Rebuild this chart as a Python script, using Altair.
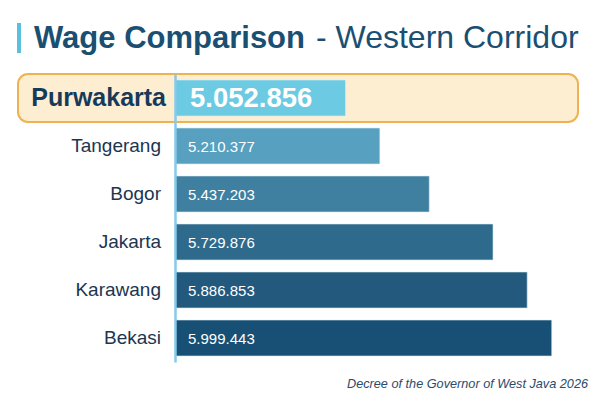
import altair as alt
import pandas as pd

cities = ["Purwakarta", "Tangerang", "Bogor", "Jakarta", "Karawang", "Bekasi"]
wages = [5052856, 5210377, 5437203, 5729876, 5886853, 5999443]
bar_colors = ["#6ccbe2", "#57a0bf", "#3f7f9f", "#2e6a8c", "#22597d", "#174f75"]
highlight = "Purwakarta"

df = pd.DataFrame({
    "city": cities,
    "wage": wages,
    "label": [f"{w:,}".replace(",", ".") for w in wages],
})

y = alt.Y("city:N", sort=cities, title=None,
          scale=alt.Scale(paddingInner=0, paddingOuter=0),
          axis=alt.Axis(labels=False, ticks=False, domainColor="#86c9ea", domainWidth=2.5))
x = alt.X("wage:Q", axis=None,
          scale=alt.Scale(domain=[4270000, 6120000], zero=False, nice=False, clamp=True))

base = alt.Chart(df)
is_hl = alt.datum.city == highlight

box = base.mark_rect(cornerRadius=10, fill="#fdeed2", stroke="#f0b24f", strokeWidth=2).encode(
    y=y, x=alt.value(-157), x2=alt.value(403)
).transform_filter(is_hl)

bars = base.mark_bar(height={"band": 0.75}, stroke="#d8ecf4", strokeWidth=1, strokeOpacity=0.6).encode(
    y=y, x=x,
    color=alt.Color("city:N", scale=alt.Scale(domain=cities, range=bar_colors), legend=None),
)

names = base.mark_text(align="right", baseline="middle", fontSize=19, color="#1c3550").encode(
    y=y, x=alt.value(-14), text="city:N"
).transform_filter(~is_hl)

name_hl = base.mark_text(align="right", baseline="middle", fontSize=25, fontWeight="bold",
                         color="#17395a").encode(
    y=y, x=alt.value(-9), text="city:N"
).transform_filter(is_hl)

values = base.mark_text(align="left", baseline="middle", fontSize=15, color="white", dy=1).encode(
    y=y, x=alt.value(13), text="label:N"
).transform_filter(~is_hl)

value_hl = base.mark_text(align="left", baseline="middle", fontSize=27.5, fontWeight="bold",
                          color="white", dy=1).encode(
    y=y, x=alt.value(15), text="label:N"
).transform_filter(is_hl)

one = alt.Chart(pd.DataFrame({"k": [0]}))
accent = one.mark_rect(color="#5bc0de").encode(
    x=alt.value(-158), x2=alt.value(-154), y=alt.value(-51), y2=alt.value(-21)
)
title_a = one.mark_text(align="left", baseline="alphabetic", fontSize=31, fontWeight="bold",
                        color="#1b4f72").encode(
    x=alt.value(-141), y=alt.value(-26), text=alt.value("Wage Comparison")
)
title_b = one.mark_text(align="left", baseline="alphabetic", fontSize=32,
                        color="#1b4f72").encode(
    x=alt.value(141), y=alt.value(-26), text=alt.value("- Western Corridor")
)
footer = one.mark_text(align="right", baseline="alphabetic", fontSize=12.7, fontStyle="italic",
                       color="#2c4a6b").encode(
    x=alt.value(413), y=alt.value(314), text=alt.value("Decree of the Governor of West Java 2026")
)

chart = alt.layer(
    box, bars, names, name_hl, values, value_hl, accent, title_a, title_b, footer
).properties(
    width=403, height=288,
    autosize=alt.AutoSizeParams(type="none"),
    padding={"left": 167, "top": 66, "right": 14, "bottom": 35},
).configure(
    font="Liberation Sans", background="white", view=alt.ViewConfig(strokeWidth=0)
)

chart.save("out.html", embed_options={"renderer": "svg", "actions": False})
